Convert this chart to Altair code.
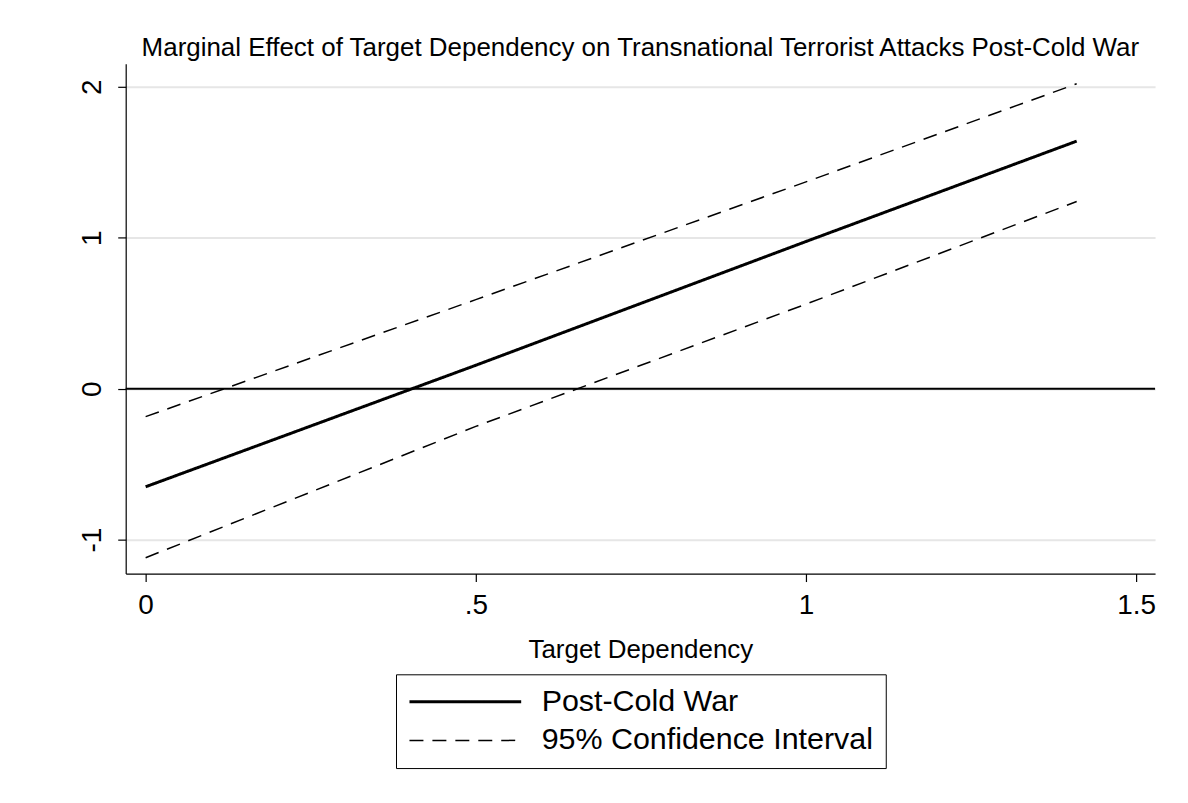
import altair as alt
import pandas as pd

# Values
x_vals = [0.0, 0.5, 1.0, 1.41]
effect = [-0.65, 0.155, 0.975, 1.64]
upper = [-0.185, 0.59, 1.37, 2.02]
lower = [-1.12, -0.25, 0.56, 1.24]
series_names = ["Post-Cold War", "95% Confidence Interval"]
y_ticks = [-1, 0, 1, 2]
x_ticks = [0, 0.5, 1, 1.5]

rows = []
for xv, e, u, l in zip(x_vals, effect, upper, lower):
    rows.append({"x": xv, "y": e, "series": series_names[0], "line": "effect"})
    rows.append({"x": xv, "y": u, "series": series_names[1], "line": "upper"})
    rows.append({"x": xv, "y": l, "series": series_names[1], "line": "lower"})
df = pd.DataFrame(rows)

FONT = "Arial, Liberation Sans, Helvetica, sans-serif"

x_enc = alt.X(
    "x:Q",
    scale=alt.Scale(domain=[-0.0302, 1.5287], nice=False, zero=False),
    axis=alt.Axis(
        title="Target Dependency",
        values=x_ticks,
        labelExpr="datum.value == 0.5 ? '.5' : toString(datum.value)",
        grid=False,
        tickSize=8,
        labelPadding=10,
        labelFontSize=28,
        titleFontSize=26,
        titlePadding=17,
        titleFontWeight="normal",
        labelFont=FONT,
        titleFont=FONT,
        domainColor="black",
        tickColor="black",
        labelColor="black",
        titleColor="black",
        domainWidth=1.2,
        tickWidth=1.2,
        labelFlush=False,
    ),
)
y_enc = alt.Y(
    "y:Q",
    scale=alt.Scale(domain=[-1.225, 2.152], nice=False, zero=False),
    axis=alt.Axis(
        title=None,
        values=y_ticks,
        labelExpr="toString(datum.value)",
        grid=True,
        gridColor="#e6e6e6",
        gridWidth=2,
        tickSize=8,
        labelAngle=270,
        labelAlign="center",
        labelBaseline="bottom",
        labelPadding=11,
        labelFontSize=28,
        labelFont=FONT,
        domainColor="black",
        tickColor="black",
        labelColor="black",
        domainWidth=1.2,
        tickWidth=1.2,
        labelFlush=False,
    ),
)

leg = alt.Legend(
    title=None,
    orient="none",
    legendX=271,
    legendY=612,
    direction="vertical",
    strokeColor="black",
    padding=12,
    labelFontSize=30.5,
    labelFont=FONT,
    labelColor="black",
    labelLimit=600,
    symbolType="M-1,0H7",
    symbolSize=784,
    labelOffset=103,
    rowPadding=8,
)

lines = alt.Chart(df).mark_line(strokeCap="butt").encode(
    x=x_enc,
    y=y_enc,
    detail="line:N",
    color=alt.Color(
        "series:N",
        scale=alt.Scale(domain=series_names, range=["black", "black"]),
        legend=leg,
    ),
    strokeDash=alt.StrokeDash(
        "series:N",
        scale=alt.Scale(domain=series_names, range=[[1, 0], [14, 9]]),
        legend=leg,
    ),
    strokeWidth=alt.StrokeWidth(
        "series:N",
        scale=alt.Scale(domain=series_names, range=[3, 1.5]),
        legend=leg,
    ),
)

zero_df = pd.DataFrame({"y": [0]})
zero_rule = alt.Chart(zero_df).mark_rule(color="black", strokeWidth=2).encode(
    y=alt.Y("y:Q")
)

chart = (
    alt.layer(zero_rule, lines)
    .properties(
        width=1032,
        height=511,
        background="white",
        autosize=alt.AutoSizeParams(type="none"),
        padding={"left": 118, "top": 55, "right": 25, "bottom": 221},
        title=alt.TitleParams(
            "Marginal Effect of Target Dependency on Transnational Terrorist Attacks Post-Cold War",
            fontSize=26,
            fontWeight="normal",
            font=FONT,
            color="black",
            anchor="middle",
            offset=3,
        ),
    )
    .configure_view(stroke=None)
)

chart.save("out.html", embed_options={"renderer": "svg", "actions": False})
